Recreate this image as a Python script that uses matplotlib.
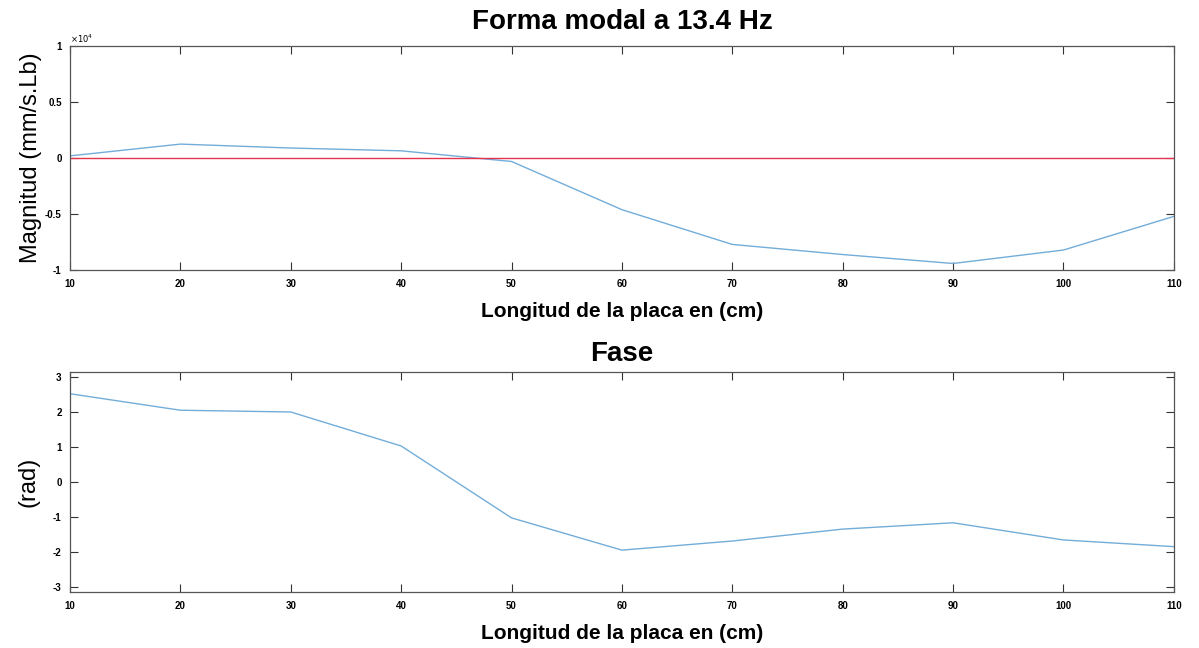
import numpy as np
import matplotlib
matplotlib.use("Agg")
import matplotlib.pyplot as plt

# posiciones de medida sobre la placa (cm)
longitud = [10, 20, 30, 40, 50, 60, 70, 80, 90, 100, 110]
# magnitud de la forma modal (x1e4 mm/s.Lb)
magnitud = [0.02, 0.125, 0.09, 0.065, -0.03, -0.46, -0.77, -0.86, -0.94, -0.82, -0.52]
# fase (rad)
fase = [2.52, 2.05, 2.0, 1.03, -1.02, -1.94, -1.68, -1.34, -1.16, -1.65, -1.84]

x_ticks = [10, 20, 30, 40, 50, 60, 70, 80, 90, 100, 110]
mag_ticks = [-1, -0.5, 0, 0.5, 1]
fase_ticks = [-3, -2, -1, 0, 1, 2, 3]

azul = (0.45, 0.68, 0.85)
plt.rcParams['font.family'] = ['Liberation Sans', 'DejaVu Sans']
plt.rcParams['axes.unicode_minus'] = False


def estilo_ejes(ax, yticks):
    ax.set_xlim(10, 110)
    ax.set_xticks(x_ticks)
    ax.set_yticks(yticks)
    ax.tick_params(direction='in', top=True, right=True, length=6, width=0.8,
                   labelsize=7, pad=6, colors='#333333', labelcolor='black')
    for lab in ax.get_xticklabels() + ax.get_yticklabels():
        lab.set_fontweight('bold')
    for s in ax.spines.values():
        s.set_color('#555555')
        s.set_linewidth(0.9)


fig = plt.figure(figsize=(11.99, 6.48), dpi=100)
ax1 = fig.add_axes([0.0584, 0.583, 0.9206, 0.346])
ax2 = fig.add_axes([0.0584, 0.086, 0.9206, 0.340])

ax1.plot(longitud, magnitud, color=azul, lw=1.0)
ax1.axhline(0, color=(0.9, 0.2, 0.3), lw=1.0)
ax1.set_ylim(-1, 1)
estilo_ejes(ax1, mag_ticks)
ax1.set_yticklabels(['-1', '-0.5', '0', '0.5', '1'])
ax1.text(0.0, 1.005, r'$\times10^4$', transform=ax1.transAxes, fontsize=6,
         ha='left', va='bottom')
ax1.set_title('Forma modal a 13.4 Hz', fontsize=20, fontweight='heavy', pad=12)
ax1.set_xlabel('Longitud de la placa en (cm)', fontsize=15, fontweight='bold',
               labelpad=10)
ax1.set_ylabel('Magnitud (mm/s.Lb)', fontsize=17, labelpad=2)

ax2.plot(longitud, fase, color=azul, lw=1.0)
ax2.set_ylim(-np.pi, np.pi)
estilo_ejes(ax2, fase_ticks)
ax2.set_title('Fase', fontsize=20, fontweight='heavy', pad=8)
ax2.set_xlabel('Longitud de la placa en (cm)', fontsize=15, fontweight='bold',
               labelpad=10)
ax2.set_ylabel('(rad)', fontsize=17, labelpad=10)

fig.savefig('out.png', dpi=100)
